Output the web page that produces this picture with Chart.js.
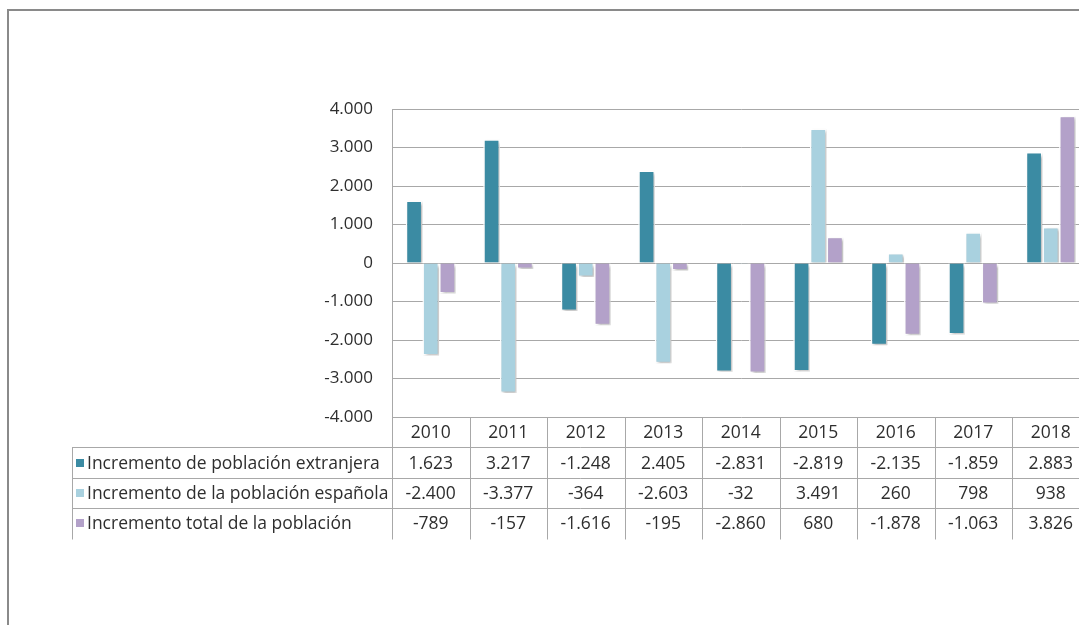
<!DOCTYPE html>
<html>
<head>
<meta charset="utf-8">
<script src="https://cdn.jsdelivr.net/npm/chart.js@4.4.1/dist/chart.umd.min.js"></script>
<style>
  html, body { margin: 0; padding: 0; background: #fff; overflow: hidden; }
  #frame { position: absolute; left: 7px; top: 9px; width: 2000px; height: 2000px;
           border-left: 2px solid #8a8a8a; border-top: 2px solid #8a8a8a; }
  #chart { position: absolute; left: 0; top: 0; }
</style>
</head>
<body>
<div id="frame"></div>
<canvas id="chart" width="1100" height="625"></canvas>
<script>
const years = ['2010', '2011', '2012', '2013', '2014', '2015', '2016', '2017', '2018'];
const extranjera = [1623, 3217, -1248, 2405, -2831, -2819, -2135, -1859, 2883];
const espanola = [-2400, -3377, -364, -2603, -32, 3491, 260, 798, 938];
const total = [-789, -157, -1616, -195, -2860, 680, -1878, -1063, 3826];

const seriesNames = [
  'Incremento de población extranjera',
  'Incremento de la población española',
  'Incremento total de la población'
];
const colors = ['#3b8ba3', '#a9d1df', '#b3a1c9'];

const FONT = '"Open Sans", Lato, sans-serif';
const TEXT = '#2e2e2e';
const LINE = '#a8a8a8';

// spanish style thousands: 4.000, -1.248
const fmt = v => {
  const s = Math.abs(v).toString().replace(/\B(?=(\d{3})+(?!\d))/g, '.');
  return (v < 0 ? '-' : '') + s;
};

const shadowPlugin = {
  id: 'barShadow',
  beforeDatasetsDraw(chart) {
    const ctx = chart.ctx;
    ctx.save();
    ctx.shadowColor = 'rgba(0,0,0,0.28)';
    ctx.shadowBlur = 3;
    ctx.shadowOffsetX = 2;
    ctx.shadowOffsetY = 2;
  },
  afterDatasetsDraw(chart) {
    chart.ctx.restore();
  }
};

// excel-like data table under the plot
const tablePlugin = {
  id: 'dataTable',
  afterDraw(chart) {
    const ctx = chart.ctx;
    const area = chart.chartArea;
    const xs = chart.scales.x;
    const rowH = 30.4;
    const top = area.bottom;
    const legLeft = 72;
    const rows = [extranjera, espanola, total];
    const half = (xs.getPixelForValue(1) - xs.getPixelForValue(0)) / 2;

    ctx.save();
    ctx.strokeStyle = LINE;
    ctx.lineWidth = 1;
    ctx.beginPath();
    for (let r = 1; r <= 3; r++) {
      const y = Math.round(top + rowH * r) + 0.5;
      ctx.moveTo(legLeft, y);
      ctx.lineTo(area.right, y);
    }
    ctx.moveTo(legLeft + 0.5, Math.round(top + rowH) + 0.5);
    ctx.lineTo(legLeft + 0.5, Math.round(top + rowH * 4) + 0.5);
    for (let i = 0; i <= years.length; i++) {
      const x = Math.round(xs.getPixelForValue(i) - half) + 0.5;
      ctx.moveTo(x, top);
      ctx.lineTo(x, Math.round(top + rowH * 4) + 0.5);
    }
    ctx.stroke();

    ctx.fillStyle = TEXT;
    ctx.font = '17.5px ' + FONT;
    ctx.textAlign = 'center';
    ctx.textBaseline = 'middle';
    years.forEach((yr, i) => {
      const cx = xs.getPixelForValue(i);
      ctx.fillText(yr, cx, top + rowH / 2 + 1);
      rows.forEach((vals, r) => {
        ctx.fillText(fmt(vals[i]), cx, top + rowH * (r + 1.5) + 1);
      });
    });

    ctx.textAlign = 'left';
    seriesNames.forEach((name, r) => {
      const cy = top + rowH * (r + 1.5);
      ctx.fillStyle = colors[r];
      ctx.fillRect(76, Math.round(cy - 4), 8, 8);
      ctx.fillStyle = TEXT;
      ctx.fillText(name, 87, cy + 1);
    });
    ctx.restore();
  }
};

new Chart(document.getElementById('chart'), {
  type: 'bar',
  data: {
    labels: years,
    datasets: [
      { label: seriesNames[0], data: extranjera, backgroundColor: colors[0] },
      { label: seriesNames[1], data: espanola, backgroundColor: colors[1] },
      { label: seriesNames[2], data: total, backgroundColor: colors[2] }
    ]
  },
  options: {
    responsive: false,
    animation: false,
    layout: { padding: { top: 109, bottom: 208, right: 10.5, left: 0 } },
    datasets: {
      bar: { borderColor: '#ffffff', borderWidth: 1.5, barPercentage: 1, categoryPercentage: 0.645 }
    },
    plugins: {
      legend: { display: false },
      tooltip: { enabled: false }
    },
    scales: {
      x: { display: false },
      y: {
        min: -4000,
        max: 4000,
        afterFit: s => { s.width = 392; },
        border: { display: true, color: LINE, width: 1 },
        grid: { color: LINE, lineWidth: 1, drawTicks: false },
        ticks: {
          stepSize: 1000,
          padding: 19,
          color: TEXT,
          font: { family: FONT, size: 17 },
          callback: v => fmt(v)
        }
      }
    }
  },
  plugins: [shadowPlugin, tablePlugin]
});
</script>
</body>
</html>
